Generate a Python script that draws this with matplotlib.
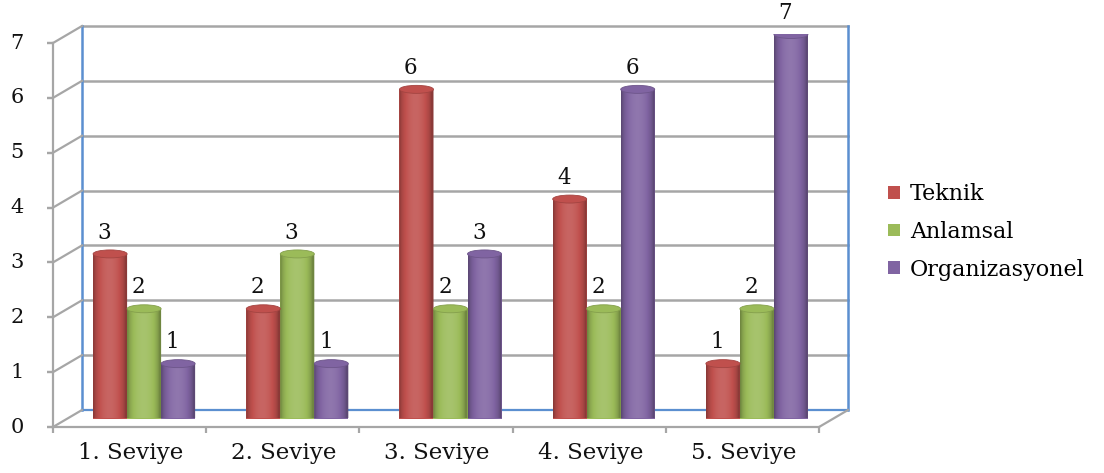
import numpy as np
import matplotlib
matplotlib.use("Agg")
import matplotlib.pyplot as plt
import matplotlib.transforms as mtransforms
from matplotlib.patches import Ellipse, PathPatch, Patch
from matplotlib.path import Path
from matplotlib.colors import to_rgb

categories = ["1. Seviye", "2. Seviye", "3. Seviye", "4. Seviye", "5. Seviye"]
series = ["Teknik", "Anlamsal", "Organizasyonel"]
teknik = [3, 2, 6, 4, 1]
anlamsal = [2, 3, 2, 2, 2]
organizasyonel = [1, 1, 3, 6, 7]
yticks = [0, 1, 2, 3, 4, 5, 6, 7]

COLORS = ["#C0504D", "#9BBB59", "#8064A2"]
GRID = "#A6A6A6"
BLUE = "#5B8FD0"
FONT = "DejaVu Serif"
TXT = "#111111"

W, H = 1104, 473
fig = plt.figure(figsize=(W / 100, H / 100), dpi=100)
fig.patch.set_facecolor("white")

# bar plane of the pseudo-3D box (pixels)
X0, PLOT_W = 67.5, 766
Y0, PLOT_H = 418.5, 384
ax = fig.add_axes([X0 / W, (H - Y0) / H, PLOT_W / W, PLOT_H / H])
ax.set_xlim(-0.5, 4.5)
ax.set_ylim(0, 7)
ax.axis("off")

DX, DY = 14.5, 8.5  # depth offset in px (half depth)


def shifted(dx, dy):
    return ax.transData + mtransforms.ScaledTranslation(dx / 100, dy / 100, fig.dpi_scale_trans)


front = shifted(-DX, -DY)
back = shifted(DX, DY)
xl, xr = -0.5, 4.5

# ── back wall ────────────────────────────────────────────────────────────────
for v in yticks[1:]:
    ax.plot([xl, xr], [v, v], color=GRID, lw=1.8, transform=back, zorder=1, clip_on=False)
ax.plot([xl, xr], [0, 0], color=BLUE, lw=1.6, transform=back, zorder=1, clip_on=False)
for xx in (xl, xr):
    ax.plot([xx, xx], [0, 7], color=BLUE, lw=1.8, transform=back, zorder=1, clip_on=False)

# ── left side wall diagonals ─────────────────────────────────────────────────
for v in yticks:
    p0 = front.transform((xl, v))
    p1 = back.transform((xl, v))
    fig.add_artist(plt.Line2D([p0[0], p1[0]], [p0[1], p1[1]], color=GRID, lw=1.6,
                              transform=None, zorder=1))
# right floor diagonal
p0 = front.transform((xr, 0))
p1 = back.transform((xr, 0))
fig.add_artist(plt.Line2D([p0[0], p1[0]], [p0[1], p1[1]], color=GRID, lw=1.6,
                          transform=None, zorder=1))

# ── front axes ───────────────────────────────────────────────────────────────
ax.plot([xl, xl], [0, 7], color=GRID, lw=1.6, transform=front, zorder=5, clip_on=False)
ax.plot([xl, xr], [0, 0], color=GRID, lw=1.6, transform=front, zorder=5, clip_on=False)
for v in yticks:
    ax.plot([xl, xl], [v, v], marker=[(0, 0), (-7, 0)], ms=8, mew=1.6, color=GRID,
            transform=front, clip_on=False, zorder=5)
    ax.text(xl, v, str(v), transform=shifted(-DX - 36, -DY), ha="center", va="center",
            fontsize=15, family=FONT, color=TXT)
for k in range(len(categories) + 1):
    ax.plot([xl + k], [0], marker=[(0, 0), (0, -7)], ms=8, mew=1.6, color=GRID,
            transform=front, clip_on=False, zorder=5)
for i, c in enumerate(categories):
    ax.text(i, 0, c, transform=shifted(-DX + 1, -DY - 26), ha="center", va="center",
            fontsize=16.5, family=FONT, color=TXT)

# ── cylinders ────────────────────────────────────────────────────────────────
x = np.arange(len(categories))
bw = 0.222
cap = 8 / (PLOT_H / 7)
t = np.linspace(0, 1, 64)
prof = 0.72 + 0.40 * np.sin(np.pi * np.clip(t * 1.1 - 0.02, 0, 1)) ** 0.6


def shade(rgb, f):
    rgb = np.array(rgb)
    if f >= 1:
        return rgb + (1 - rgb) * (f - 1)
    return rgb * f


for j, (vals, col) in enumerate(zip([teknik, anlamsal, organizasyonel], COLORS)):
    base = to_rgb(col)
    bars = ax.bar(x + (j - 1) * bw, vals, bw, color=col, zorder=3, linewidth=0)
    grad = np.array([[shade(base, f) for f in prof]])
    for b, v in zip(bars, vals):
        x0, w, h = b.get_x(), b.get_width(), b.get_height()
        th = np.linspace(np.pi, 2 * np.pi, 30)
        arc = np.column_stack([x0 + w / 2 + w / 2 * np.cos(th), cap / 2 * np.sin(th)])
        verts = np.vstack([arc, [[x0 + w, h], [x0, h], arc[0]]])
        clip = PathPatch(Path(verts), transform=ax.transData, facecolor="none", edgecolor="none")
        ax.add_patch(clip)
        im = ax.imshow(grad, extent=(x0, x0 + w, -cap, h), aspect="auto", zorder=3.2,
                       interpolation="bilinear")
        im.set_clip_path(clip)
        ax.add_patch(Ellipse((x0 + w / 2, h), w, cap, facecolor=shade(base, 1.0),
                             edgecolor=shade(base, 0.85), lw=0.6, zorder=3.4))
        ax.annotate(str(v), (x0 + w / 2, h), xytext=(-4, 7.5), textcoords="offset points",
                    ha="center", va="bottom", fontsize=15.5, family=FONT, color=TXT,
                    zorder=6, annotation_clip=False)

ax.set_xlim(-0.5, 4.5)
ax.set_ylim(0, 7)

handles = [Patch(facecolor=c, edgecolor="none") for c in COLORS]
fig.legend(handles, series, loc="center left", bbox_to_anchor=(868 / W, (H - 232) / H),
           frameon=False, prop={"family": FONT, "size": 16}, handlelength=0.55,
           handleheight=0.5, handletextpad=0.45, labelspacing=0.7)

fig.savefig("out.png", dpi=100, facecolor="white")
